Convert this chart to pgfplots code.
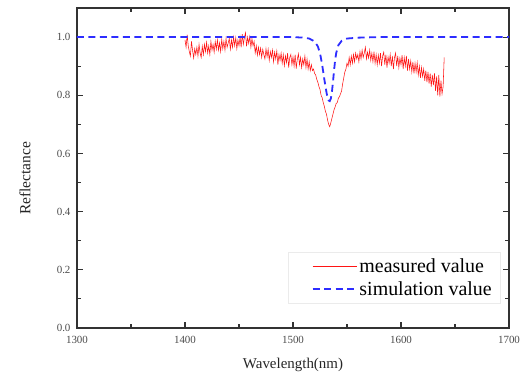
\documentclass[border=0pt]{standalone}
\usepackage{fontspec}
\setmainfont{Liberation Serif}
\usepackage{pgfplots}
\pgfplotsset{compat=1.18}
\definecolor{simblue}{RGB}{45,45,255}
\definecolor{axisgray}{RGB}{50,50,50}
\definecolor{measred}{RGB}{255,20,20}
\pgfplotsset{mylegend/.style={legend image code/.code={%
  \path[draw=none] (0bp,0bp) -- (18bp,0bp);
  \draw[#1] (18bp,0bp) -- (62bp,0bp);}}}
\begin{document}
\begin{tikzpicture}
\useasboundingbox (-77bp,-48bp) rectangle (452bp,328bp);
\begin{axis}[
  at={(0,0)}, anchor=south west,
  scale only axis, width=432bp, height=320bp,
  xmin=1300, xmax=1700, ymin=0, ymax=1.1,
  xtick={1300,1400,1500,1600,1700},
  ytick={0,0.2,0.4,0.6,0.8,1.0},
  minor x tick num=1, minor y tick num=1,
  tick align=inside,
  major tick length=6bp, minor tick length=4bp,
  axis line style={line width=1.3bp, axisgray},
  tick style={line width=1.1bp, axisgray},
  /pgf/number format/assume math mode=true,
  xticklabel style={font=\fontsize{11}{13}\selectfont, text=black!70, yshift=-5bp,
    /pgf/number format/set thousands separator={}},
  yticklabel style={font=\fontsize{11}{13}\selectfont, text=black!70, xshift=-3bp,
    /pgf/number format/.cd, fixed, fixed zerofill, precision=1},
  xlabel={Wavelength(nm)},
  ylabel={Reflectance},
  xlabel style={at={(axis description cs:0.5,-0.1156)}, anchor=center,
    font=\fontsize{15}{18}\selectfont, text=black!85},
  ylabel style={at={(axis description cs:-0.1204,0.467)}, anchor=center, rotate=0,
    font=\fontsize{15.5}{18}\selectfont, text=black!85},
  legend style={at={(rel axis cs:0.979,0.078)}, anchor=south east,
    draw=black!8, font=\fontsize{20}{22}\selectfont, inner xsep=6bp, inner ysep=4bp,
    nodes={inner sep=2bp}, row sep=4bp},
  legend cell align=left,
]
\addplot[measred, line width=0.55bp, mylegend] coordinates {
(1400,0.99)(1401,0.965)(1402,1.008)(1403,0.97)(1404,0.95)(1405,0.935)(1406,0.985)(1407,0.955)(1408,0.928)(1409,0.96)
(1410,0.94)(1411,0.965)(1412,0.935)(1413,0.975)(1414,0.945)(1415,0.93)(1416,0.968)(1417,0.94)(1418,0.975)(1419,0.95)
(1420,0.982)(1421,0.945)(1422,0.97)(1423,0.94)(1424,0.985)(1425,0.955)(1426,0.975)(1427,0.948)(1428,0.985)(1429,0.958)
(1430,0.99)(1431,0.955)(1432,0.98)(1433,0.95)(1434,0.992)(1435,0.96)(1436,0.985)(1437,0.955)(1438,0.995)(1439,0.965)
(1440,0.98)(1441,0.995)(1442,0.958)(1443,0.99)(1444,0.965)(1445,1.0)(1446,0.97)(1447,0.998)(1448,0.96)(1449,0.99)
(1450,0.97)(1451,1.0)(1452,0.965)(1453,1.01)(1454,0.975)(1455,0.998)(1456,1.015)(1457,0.968)(1458,1.0)(1459,0.978)
(1460,1.002)(1461,0.965)(1462,0.995)(1463,0.97)(1464,0.985)(1465,0.945)(1466,0.97)(1467,0.938)(1468,0.965)(1469,0.94)
(1470,0.962)(1471,0.93)(1472,0.958)(1473,0.94)(1474,0.925)(1475,0.96)(1476,0.932)(1477,0.958)(1478,0.92)(1479,0.95)
(1480,0.93)(1481,0.955)(1482,0.915)(1483,0.948)(1484,0.925)(1485,0.952)(1486,0.905)(1487,0.94)(1488,0.92)(1489,0.945)
(1490,0.91)(1491,0.94)(1492,0.902)(1493,0.935)(1494,0.912)(1495,0.945)(1496,0.895)(1497,0.93)(1498,0.94)(1499,0.905)
(1500,0.932)(1501,0.9)(1502,0.94)(1503,0.892)(1504,0.925)(1505,0.942)(1506,0.905)(1507,0.93)(1508,0.895)(1509,0.925)
(1510,0.905)(1511,0.935)(1512,0.895)(1513,0.925)(1514,0.89)(1515,0.915)(1516,0.885)(1517,0.905)(1518,0.885)(1519,0.89)
(1520,0.875)(1521,0.87)(1522,0.855)(1523,0.845)(1524,0.83)(1525,0.82)(1526,0.8)(1527,0.792)(1528,0.775)(1529,0.762)
(1530,0.745)(1531,0.735)(1532,0.715)(1533,0.7)(1534,0.692)(1535,0.705)(1536,0.72)(1537,0.735)(1538,0.75)(1539,0.76)
(1540,0.772)(1541,0.775)(1542,0.79)(1543,0.795)(1544,0.805)(1545,0.815)(1546,0.84)(1547,0.86)(1548,0.88)(1549,0.89)
(1550,0.91)(1551,0.9)(1552,0.93)(1553,0.905)(1554,0.935)(1555,0.91)(1556,0.94)(1557,0.915)(1558,0.945)(1559,0.925)
(1560,0.94)(1561,0.915)(1562,0.95)(1563,0.925)(1564,0.955)(1565,0.93)(1566,0.945)(1567,0.965)(1568,0.925)(1569,0.948)
(1570,0.928)(1571,0.955)(1572,0.92)(1573,0.945)(1574,0.915)(1575,0.95)(1576,0.91)(1577,0.94)(1578,0.905)(1579,0.938)
(1580,0.91)(1581,0.945)(1582,0.9)(1583,0.935)(1584,0.948)(1585,0.905)(1586,0.94)(1587,0.895)(1588,0.932)(1589,0.91)
(1590,0.94)(1591,0.9)(1592,0.935)(1593,0.89)(1594,0.93)(1595,0.945)(1596,0.9)(1597,0.935)(1598,0.895)(1599,0.928)
(1600,0.905)(1601,0.938)(1602,0.89)(1603,0.93)(1604,0.9)(1605,0.935)(1606,0.885)(1607,0.925)(1608,0.89)(1609,0.918)
(1610,0.88)(1611,0.915)(1612,0.875)(1613,0.91)(1614,0.88)(1615,0.912)(1616,0.87)(1617,0.9)(1618,0.86)(1619,0.895)
(1620,0.865)(1621,0.89)(1622,0.85)(1623,0.885)(1624,0.845)(1625,0.88)(1626,0.84)(1627,0.875)(1628,0.83)(1629,0.87)
(1630,0.835)(1631,0.875)(1632,0.815)(1633,0.865)(1634,0.8)(1635,0.87)(1636,0.795)(1637,0.85)(1638,0.805)(1639,0.83)
(1640,0.93)
};
\addlegendentry{measured value}
\addplot[simblue, line width=1.8bp, dash pattern=on 7bp off 4.5bp, mylegend] coordinates {
(1300,1.0)(1500,1.0)(1510,0.998)(1515,0.995)(1520,0.985)(1523,0.968)(1525,0.945)(1527,0.905)(1529,0.855)(1531,0.81)(1532,0.792)(1533,0.782)(1534,0.78)(1535,0.788)(1536,0.81)(1537,0.845)(1538,0.885)(1539,0.92)(1540,0.945)(1542,0.972)(1545,0.987)(1550,0.995)(1560,0.998)(1580,1.0)(1700,1.0)
};
\addlegendentry{simulation value}
\end{axis}
\end{tikzpicture}
\end{document}
